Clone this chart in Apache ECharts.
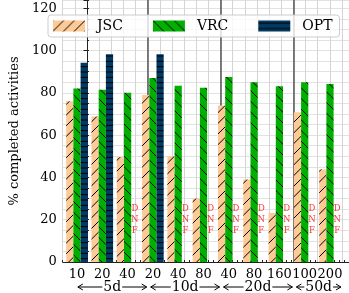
<!DOCTYPE html>
<html><head><meta charset="utf-8">
<script src="https://cdn.jsdelivr.net/npm/echarts@6/dist/echarts.min.js"></script>
<style>html,body{margin:0;padding:0;background:#fff}#c{width:349px;height:293px}</style>
</head><body><div id="c"></div>
<script>
// ---- data ----
const categories = ['10','20','40','20','40','80','40','80','160','100','200'];
const jsc = [76, 68.8, 49.6, 79, 50, 30, 74, 39, 23.2, 70.8, 43.8];
const vrc = [82, 81.5, 80.1, 87, 83.4, 82.4, 87.5, 85, 83.1, 85, 84.2];
const opt = [94.2, 98.3, null, 98.3, null, null, null, null, null, null, null];
const seriesNames = ['JSC', 'VRC', 'OPT'];
const groupNames = ['5d', '10d', '20d', '50d'];
const groupRanges = [[-0.5, 2.5], [2.5, 5.5], [5.5, 8.5], [8.5, 10.5]];
const groupBounds = [2.5, 5.5, 8.5];
const dnfLabelY = 20;

// ---- layout ----
const FONT = '"DejaVu Serif", serif';
const axisLeft = 51.7, catW = 25.3, axisBottomPx = 262, pxPerUnit = 2.1225;
const gridBottom = 293 - axisBottomPx;
const xMin = -1, xMax = -1 + (349 + 1 - axisLeft) / catW;
const yMax = (axisBottomPx + 1) / pxPerUnit;
const barW = 7.2;

function hatch(bg, kind, spacing) {
  const s = 32;
  const cv = document.createElement('canvas');
  cv.width = s; cv.height = s;
  const ctx = cv.getContext('2d');
  ctx.fillStyle = bg; ctx.fillRect(0, 0, s, s);
  ctx.strokeStyle = '#000'; ctx.lineWidth = 1;
  ctx.beginPath();
  const n = Math.round(s / spacing);
  const st = s / n;
  if (kind === '/') {
    for (let k = 0; k <= 2 * n; k++) { const c = k * st; ctx.moveTo(c, 0); ctx.lineTo(c - s, s); }
  } else if (kind === '\\') {
    for (let k = -n; k <= n; k++) { const c = k * st; ctx.moveTo(c, 0); ctx.lineTo(c + s, s); }
  } else {
    for (let k = 0; k < n; k++) { const y = k * st + st / 2; ctx.moveTo(0, y); ctx.lineTo(s, y); }
  }
  ctx.stroke();
  return { image: cv, repeat: 'repeat' };
}
const colJSC = hatch('#fdca96', '/', 10.67);
const colVRC = hatch('#00b000', '\\', 10.67);
const colOPT = hatch('#033a63', '-', 5.33);

const gridColor = '#d4d4d4';
const chart = echarts.init(document.getElementById('c'), null, { renderer: 'canvas' });

const dnfData = [];
opt.forEach((v, i) => { if (v == null) dnfData.push([i, dnfLabelY]); });

chart.setOption({
  animation: false,
  backgroundColor: '#fff',
  grid: [
    { left: axisLeft, right: -1, top: -1, bottom: gridBottom },
    { left: axisLeft + 0.5 * catW, width: categories.length * catW, top: -1, bottom: gridBottom }
  ],
  legend: {
    data: seriesNames, left: 48, top: 15, icon: 'rect', itemWidth: 32, itemHeight: 11, itemGap: 30, z: 10,
    backgroundColor: 'rgba(255,255,255,0.8)', borderColor: '#cccccc', borderWidth: 1, borderRadius: 3,
    padding: [4, 7, 4, 5],
    textStyle: { fontFamily: FONT, fontSize: 14, color: '#000', padding: [0, 0, 0, 7] }
  },
  xAxis: [
    { gridIndex: 0, type: 'value', min: xMin, max: xMax, interval: 0.5,
      axisLine: { show: true, lineStyle: { color: '#222', width: 1 } },
      axisTick: { show: false }, axisLabel: { show: false },
      splitLine: { show: true, lineStyle: { color: gridColor, width: 1 } } },
    { gridIndex: 0, type: 'value', min: xMin, max: xMax, interval: 1,
      axisLine: { show: false }, axisLabel: { show: false }, splitLine: { show: false },
      axisTick: { show: true, length: 2, lineStyle: { color: '#222' } },
      minorTick: { show: true, splitNumber: 5, length: 2, lineStyle: { color: '#222' } } },
    { gridIndex: 1, type: 'category', data: categories, boundaryGap: true,
      axisLine: { show: false }, axisTick: { show: false }, splitLine: { show: false },
      axisLabel: { interval: 0, margin: 6, fontFamily: FONT, fontSize: 13, color: '#000' } }
  ],
  yAxis: [
    { gridIndex: 0, type: 'value', min: 0, max: yMax, interval: 20,
      name: '% completed activities', nameLocation: 'middle', nameGap: 38,
      nameTextStyle: { fontFamily: FONT, fontSize: 13, color: '#000' },
      axisLine: { show: true, lineStyle: { color: '#222', width: 1 } },
      axisTick: { show: true, length: 3.5, lineStyle: { color: '#222' } },
      axisLabel: { margin: 6, fontFamily: FONT, fontSize: 13, color: '#000',
        formatter: v => (Math.abs(v % 20) < 1e-6 && v <= 120.01) ? String(Math.round(v)) : '' },
      splitLine: { show: true, lineStyle: { color: '#c8c8c8', width: 1 } } },
    { gridIndex: 0, type: 'value', min: 0, max: yMax, interval: 5,
      axisLine: { show: false }, axisLabel: { show: false },
      axisTick: { show: true, length: 2, lineStyle: { color: '#222' } },
      splitLine: { show: true, lineStyle: { color: '#e2e2e2', width: 1 } } },
    { gridIndex: 1, type: 'value', min: 0, max: yMax, show: false }
  ],
  series: [
    { type: 'line', xAxisIndex: 0, yAxisIndex: 0, data: [], silent: true, z: 1,
      markLine: { silent: true, symbol: 'none', z: 1, label: { show: false },
        lineStyle: { color: '#555', width: 1.5, type: 'solid' },
        data: groupBounds.map(b => ({ xAxis: b })) } },
    { name: 'JSC', type: 'bar', xAxisIndex: 2, yAxisIndex: 2, data: jsc, barWidth: barW, barGap: '0%',
      itemStyle: { color: colJSC } },
    { name: 'VRC', type: 'bar', xAxisIndex: 2, yAxisIndex: 2, data: vrc, barWidth: barW, barGap: '0%',
      itemStyle: { color: colVRC } },
    { name: 'OPT', type: 'bar', xAxisIndex: 2, yAxisIndex: 2, data: opt, barWidth: barW, barGap: '0%',
      itemStyle: { color: colOPT } },
    { type: 'scatter', xAxisIndex: 2, yAxisIndex: 2, data: dnfData, symbolSize: 0, silent: true,
      label: { show: true, position: 'inside', offset: [barW, 0], formatter: 'D\nN\nF',
        fontFamily: FONT, fontSize: 8.5, lineHeight: 10.7, color: '#ff0000' } }
  ]
});

// group annotations under the axis
const g = [];
const yA = 287;
groupRanges.forEach((r, i) => {
  const a = chart.convertToPixel({ gridIndex: 0 }, [r[0], 0])[0] + 3;
  const b = chart.convertToPixel({ gridIndex: 0 }, [r[1], 0])[0] - 1;
  const cx = (a + b) / 2;
  g.push({ type: 'line', shape: { x1: a, y1: yA, x2: b, y2: yA }, style: { stroke: '#000', lineWidth: 1 } });
  g.push({ type: 'polyline', shape: { points: [[a + 5, yA - 3], [a, yA], [a + 5, yA + 3]] }, style: { stroke: '#000', fill: null, lineWidth: 1 } });
  g.push({ type: 'polyline', shape: { points: [[b - 5, yA - 3], [b, yA], [b - 5, yA + 3]] }, style: { stroke: '#000', fill: null, lineWidth: 1 } });
  g.push({ type: 'text', x: cx, y: yA, z: 10, style: { text: groupNames[i], fontFamily: FONT, fontSize: 14, fill: '#000',
    align: 'center', verticalAlign: 'middle', backgroundColor: '#fff', padding: [0, 1] } });
});
chart.setOption({ graphic: g });
</script>
</body></html>
